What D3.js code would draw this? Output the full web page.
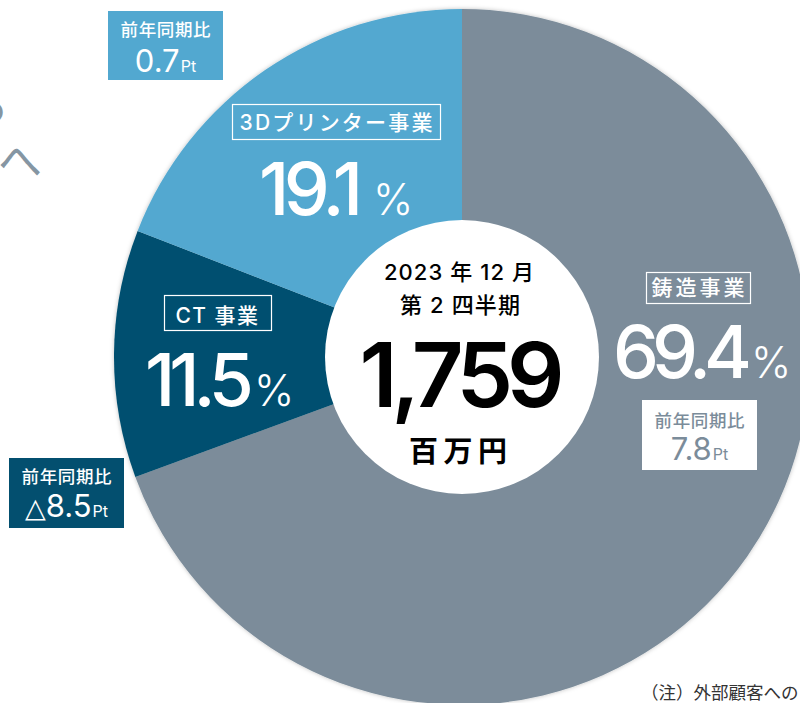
<!DOCTYPE html>
<meta charset="utf-8">
<style>
  body { margin: 0; background: #fff; }
  svg { display: block; }
</style>
<body>
<script src="https://cdn.jsdelivr.net/npm/d3@7"></script>
<script>

var width = 800,
    height = 703;

// data
var segments = ["鋳造事業", "CT 事業", "3Dプリンター事業"];
var shares = [69.4, 11.5, 19.1];
var yoyValues = ["7.8", "△8.5", "0.7"];
var yoyTitle = "前年同期比";
var periodLines = ["2023 年 12 月", "第 2 四半期"];
var totalValue = "1,759";
var unitLabel = "百万円";
var noteText = "（注）外部顧客への";

var colors = ["#7b8c9a", "#034f6f", "#52a8d0"];

var jp = "'Noto Sans CJK JP', sans-serif",
    num = "Inter, 'Noto Sans CJK JP', sans-serif";

// label placement, one entry per segment
var layout = [
  { name: {x: 646, y: 272, w: 104, h: 31, base: 295, len: 93, size: 21},
    pct: {x: 613, base: 378, len: 139, px: 751},
    yoy: {x: 642, y: 400, w: 115, h: 70, fill: "#fff", ink: colors[0], tBase: 427, vBase: 460} },
  { name: {x: 164, y: 295, w: 107, h: 35, base: 323, len: null, size: 21},
    pct: {x: 145, base: 406, len: 109, px: 254},
    yoy: {x: 9, y: 458, w: 115, h: 70, fill: colors[1], ink: "#fff", tBase: 483, vBase: 517} },
  { name: {x: 232, y: 104, w: 208, h: 35, base: 130, len: 193, size: 21},
    pct: {x: 259, base: 215, len: 104, px: 373},
    yoy: {x: 108, y: 11, w: 115, h: 69, fill: colors[2], ink: "#fff", tBase: 36, vBase: 72} }
];

var cx = 462, cy = 357, outerR = 348, innerR = 137;

var svg = d3.select("body").append("svg")
    .attr("width", width)
    .attr("height", height);

var defs = svg.append("defs");
var shadow = defs.append("filter").attr("id", "soft")
    .attr("x", "-10%").attr("y", "-10%").attr("width", "120%").attr("height", "120%");
shadow.append("feDropShadow")
    .attr("dx", 0).attr("dy", 0)
    .attr("stdDeviation", 2)
    .attr("flood-color", "#000")
    .attr("flood-opacity", 0.25);

// fragments of the neighbouring heading at the left edge
svg.append("text")
    .attr("x", 9).attr("y", 122)
    .attr("text-anchor", "end")
    .style("font-family", jp).style("font-size", "44px").style("font-weight", 400)
    .attr("fill", "#8596a3")
    .text("る");
svg.append("text")
    .attr("x", -2).attr("y", 177)
    .style("font-family", jp).style("font-size", "44px").style("font-weight", 400)
    .attr("fill", "#8596a3")
    .text("へ");

var pie = d3.pie().sort(null).value(function(d) { return d; });
var arc = d3.arc().innerRadius(0).outerRadius(outerR);

var g = svg.append("g").attr("transform", "translate(" + cx + "," + cy + ")");

g.append("g").attr("filter", "url(#soft)")
  .selectAll("path")
  .data(pie(shares))
  .enter().append("path")
    .attr("d", arc)
    .attr("fill", function(d, i) { return colors[i]; });

g.append("circle")
    .attr("r", innerR)
    .attr("fill", "#fff");

// centre text
var centre = svg.append("g").attr("text-anchor", "middle");
centre.append("text")
    .attr("x", 459).attr("y", 280)
    .attr("textLength", 150).attr("lengthAdjust", "spacing")
    .style("font-family", num).style("font-size", "22px").style("font-weight", 500)
    .text(periodLines[0]);
centre.append("text")
    .attr("x", 460).attr("y", 313)
    .attr("textLength", 120).attr("lengthAdjust", "spacing")
    .style("font-family", num).style("font-size", "22px").style("font-weight", 500)
    .text(periodLines[1]);
centre.append("text")
    .attr("x", 462).attr("y", 407)
    .attr("textLength", 205).attr("lengthAdjust", "spacing")
    .style("font-family", num).style("font-size", "90px").style("font-weight", 600)
    .text(totalValue);
centre.append("text")
    .attr("x", 458).attr("y", 462)
    .attr("textLength", 98).attr("lengthAdjust", "spacing")
    .style("font-family", jp).style("font-size", "29px").style("font-weight", 700)
    .text(unitLabel);

// segment labels
layout.forEach(function(L, i) {
  var n = L.name;
  svg.append("rect")
      .attr("x", n.x + 0.5).attr("y", n.y + 0.5)
      .attr("width", n.w).attr("height", n.h)
      .attr("fill", "none").attr("stroke", "#fff").attr("stroke-width", 1.2);
  var nt = svg.append("text")
      .attr("x", n.x + n.w / 2).attr("y", n.base)
      .attr("text-anchor", "middle")
      .style("font-family", num).style("font-size", n.size + "px").style("font-weight", 500)
      .attr("fill", "#fff")
      .text(segments[i]);
  if (n.len) nt.attr("textLength", n.len).attr("lengthAdjust", "spacing");
  else nt.style("letter-spacing", "1.5px");

  var p = L.pct;
  svg.append("text")
      .attr("x", p.x).attr("y", p.base)
      .attr("textLength", p.len).attr("lengthAdjust", "spacing")
      .style("font-family", num).style("font-size", "73px").style("font-weight", 500)
      .attr("fill", "#fff")
      .text(d3.format(".1f")(shares[i]));
  svg.append("text")
      .attr("x", p.px).attr("y", p.base)
      .style("font-family", num).style("font-size", "43px").style("font-weight", 300)
      .attr("fill", "#fff")
      .text("%");

  var y = L.yoy;
  svg.append("rect")
      .attr("x", y.x).attr("y", y.y)
      .attr("width", y.w).attr("height", y.h)
      .attr("fill", y.fill);
  svg.append("text")
      .attr("x", y.x + y.w / 2).attr("y", y.tBase)
      .attr("text-anchor", "middle")
      .attr("textLength", 90).attr("lengthAdjust", "spacing")
      .style("font-family", jp).style("font-size", "17.5px").style("font-weight", 500)
      .attr("fill", y.ink)
      .text(yoyTitle);
  var v = svg.append("text")
      .attr("x", y.x + y.w / 2).attr("y", y.vBase)
      .attr("text-anchor", "middle")
      .style("font-family", num).style("font-weight", 400)
      .attr("fill", y.ink);
  var val = yoyValues[i];
  if (val.charAt(0) === "△") {
    v.append("tspan").style("font-family", "'DejaVu Sans', sans-serif")
        .style("font-size", "27px").style("font-weight", 400).text("△");
    val = val.slice(1);
  }
  v.append("tspan").style("font-size", "31px").text(val);
  v.append("tspan").style("font-size", "16px").attr("dx", 1).text("Pt");
});

svg.append("text")
    .attr("x", 641).attr("y", 699)
    .style("font-family", jp).style("font-size", "17.5px").style("font-weight", 400)
    .attr("fill", "#333")
    .text(noteText);

</script>
</body>
